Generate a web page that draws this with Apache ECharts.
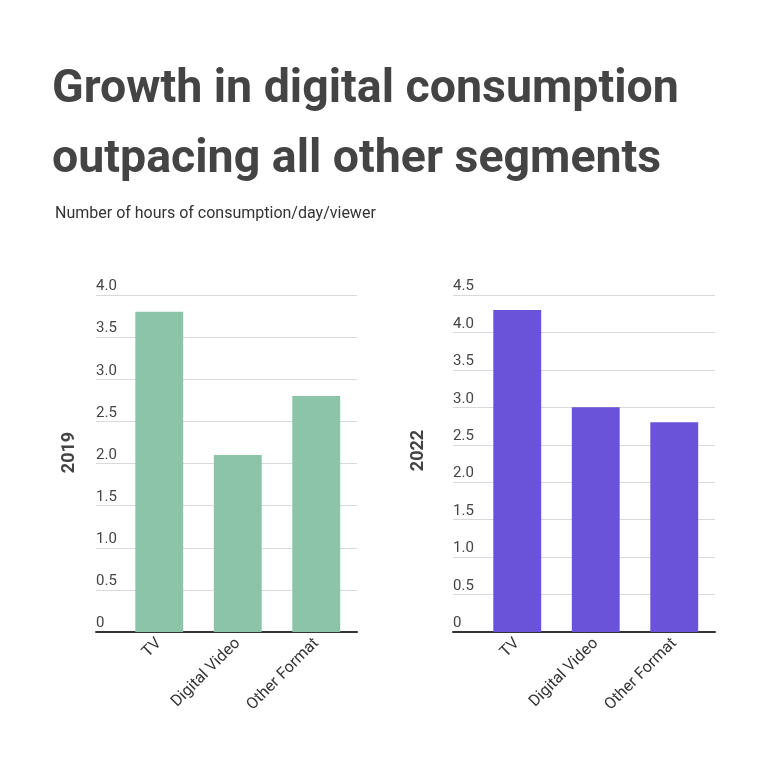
<!DOCTYPE html>
<html>
<head>
<meta charset="utf-8">
<script src="https://cdn.jsdelivr.net/npm/echarts@6/dist/echarts.min.js"></script>
<style>
html,body{margin:0;padding:0;background:#fff;}
#c{width:777px;height:780px;}
</style>
</head>
<body>
<div id="c"></div>
<script>
const categories = ['TV', 'Digital Video', 'Other Format'];
const values2019 = [3.8, 2.1, 2.8];
const values2022 = [4.3, 3.0, 2.8];
const yTicks2019 = [0, 0.5, 1.0, 1.5, 2.0, 2.5, 3.0, 3.5, 4.0];
const yTicks2022 = [0, 0.5, 1.0, 1.5, 2.0, 2.5, 3.0, 3.5, 4.0, 4.5];
const panelNames = ['2019', '2022'];
const title1 = 'Growth in digital consumption';
const title2 = 'outpacing all other segments';
const subtitle = 'Number of hours of consumption/day/viewer';

const FONT = 'Roboto';
const chart = echarts.init(document.getElementById('c'), null, {renderer: 'canvas'});

function fmt(v){ return v === 0 ? '0' : v.toFixed(1); }

const panels = [
  {name: panelNames[0], ticks: yTicks2019, data: values2019, color: '#8cc4a8', axLeft: 96, axRight: 420, barLeft: 120, barRight: 421.5, nameGap: 18, namePad: [0, 0, 0, 22]},
  {name: panelNames[1], ticks: yTicks2022, data: values2022, color: '#6a52d9', axLeft: 453, axRight: 62, barLeft: 478, barRight: 63.5, nameGap: 26, namePad: [0, 0, 0, 26]}
];

const grids = [], xAxes = [], yAxes = [], series = [];
panels.forEach((p, i) => {
  const max = p.ticks[p.ticks.length - 1];
  grids.push({left: p.axLeft, right: p.axRight, top: 295, bottom: 148});
  grids.push({left: p.barLeft, right: p.barRight, top: 295, bottom: 148});
  const gA = i * 2, gB = i * 2 + 1;
  xAxes.push({gridIndex: gA, type: 'category', data: [''], axisLine: {show: true, lineStyle: {color: '#333', width: 2}}, axisTick: {show: false}, axisLabel: {show: false}});
  xAxes.push({gridIndex: gB, type: 'category', data: categories,
    axisLine: {show: false}, axisTick: {show: false},
    axisLabel: {rotate: 45, interval: 0, fontFamily: FONT, fontSize: 16, color: '#333', margin: 9}});
  yAxes.push({gridIndex: gA, type: 'value', min: 0, max: max, interval: 0.5,
    name: p.name, nameLocation: 'middle', nameGap: p.nameGap, nameRotate: 90,
    nameTextStyle: {fontFamily: FONT, fontSize: 18, fontWeight: 'bold', color: '#444', padding: p.namePad},
    axisLine: {show: false}, axisTick: {show: false},
    splitLine: {show: true, lineStyle: {color: '#d9d9d9', width: 1}},
    axisLabel: {inside: true, margin: 0, formatter: fmt, verticalAlign: 'bottom', align: 'left',
      padding: [0, 0, 1, 0], fontFamily: FONT, fontSize: 15, color: '#444'}});
  yAxes.push({gridIndex: gB, type: 'value', min: 0, max: max, interval: 0.5, show: false, splitLine: {show: false}});
  series.push({type: 'bar', xAxisIndex: gB, yAxisIndex: gB, data: p.data, barWidth: '61%',
    itemStyle: {color: p.color}, silent: true, z: 1});
});

chart.setOption({
  animation: false,
  backgroundColor: '#fff',
  title: [
    {text: title1, left: 47, top: 62, textStyle: {fontFamily: FONT, fontSize: 46.5, fontWeight: 'bold', color: '#444'}},
    {text: title2, left: 47, top: 132, textStyle: {fontFamily: FONT, fontSize: 46.5, fontWeight: 'bold', color: '#444'}},
    {text: subtitle, left: 50, top: 201, textStyle: {fontFamily: FONT, fontSize: 16, fontWeight: 'normal', color: '#333'}}
  ],
  grid: grids,
  xAxis: xAxes,
  yAxis: yAxes,
  series: series
});
</script>
</body>
</html>
